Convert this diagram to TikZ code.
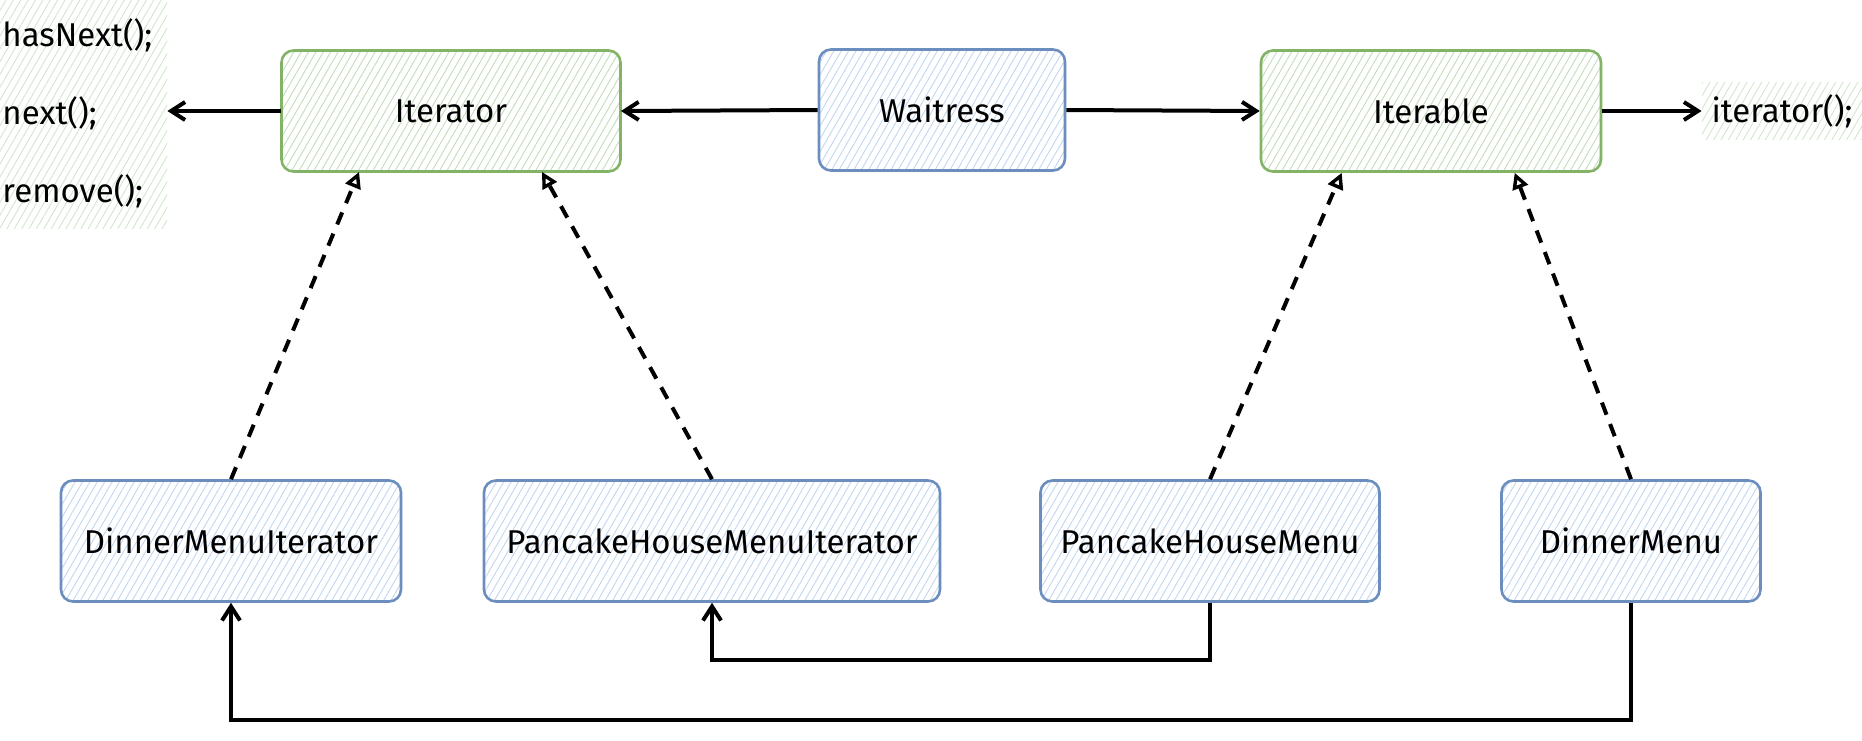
\documentclass[tikz,border=0pt]{standalone}
\usepackage{fontspec}
\setmainfont{Fira Sans}
\usetikzlibrary{arrows.meta,patterns.meta,calc}
\definecolor{gstroke}{HTML}{82B366}
\definecolor{ghatch}{HTML}{C2DDBB}
\definecolor{bstroke}{HTML}{6C8EBF}
\definecolor{bhatch}{HTML}{C0D6F3}
\begin{document}
\begin{tikzpicture}[x=0.5pt,y=-0.5pt,
  every node/.style={font=\fontsize{16.5}{20}\selectfont},
  hatch/.style={pattern={Lines[angle=60,distance=3.2pt,line width=0.45pt]}},
  box/.style={rectangle, rounded corners=6pt, line width=1.3pt, inner sep=0pt, minimum height=60.5pt},
  gbox/.style={box, draw=gstroke, hatch, pattern color=ghatch},
  bbox/.style={box, draw=bstroke, hatch, pattern color=bhatch},
  txtbox/.style={hatch, pattern color=ghatch!75, inner sep=0pt},
  arr/.style={line width=2pt, -{Straight Barb[length=7pt,width=9pt,line width=2pt]}},
  impl/.style={line width=2pt, dash pattern=on 6.5pt off 5pt, -{Triangle[open,length=8pt,width=8pt,line width=1.7pt]}}]
\useasboundingbox (0,0) rectangle (1862,740);

% top row
\node[gbox, minimum width=169.5pt] (iter) at (451,111) {Iterator};
\node[bbox, minimum width=123pt] (wait) at (942,110) {Waitress};
\node[gbox, minimum width=170pt] (itb) at (1431,111) {Iterable};

% method texts
\node[txtbox, minimum width=83.5pt, minimum height=115pt, text width=81pt, align=left,
      font=\fontsize{16.5}{39}\selectfont] (methods) at (83.5,113.5) {hasNext();\\next();\\remove();};
\node[txtbox, minimum width=80pt, minimum height=28.5pt] (itfn) at (1782,111) {iterator();};

% bottom row
\node[bbox, minimum width=170pt] (dmi) at (231,541) {DinnerMenuIterator};
\node[bbox, minimum width=228pt] (phmi) at (712,541) {PancakeHouseMenuIterator};
\node[bbox, minimum width=169.5pt] (phm) at (1210,541) {PancakeHouseMenu};
\node[bbox, minimum width=129.5pt] (dm) at (1631,541) {DinnerMenu};

% helper levels
\coordinate (lvA) at (0,660);
\coordinate (lvB) at (0,720);

% solid arrows
\draw[arr] (iter.west) -- (iter.west -| methods.east);
\draw[arr] (wait.west) -- (iter.east);
\draw[arr] (wait.east) -- (itb.west);
\draw[arr] (itb.east) -- (itfn.west);

% realisation arrows
\draw[impl] (dmi.north) -- ($(iter.south west)+(78,0)$);
\draw[impl] (phmi.north) -- ($(iter.south west)+(261,0)$);
\draw[impl] (phm.north) -- ($(itb.south west)+(82,0)$);
\draw[impl] (dm.north) -- ($(itb.south west)+(255,0)$);

% creation links
\draw[arr] (phm.south) |- (phmi.south |- lvA) -- (phmi.south);
\draw[arr] (dm.south) |- (dmi.south |- lvB) -- (dmi.south);
\end{tikzpicture}
\end{document}
